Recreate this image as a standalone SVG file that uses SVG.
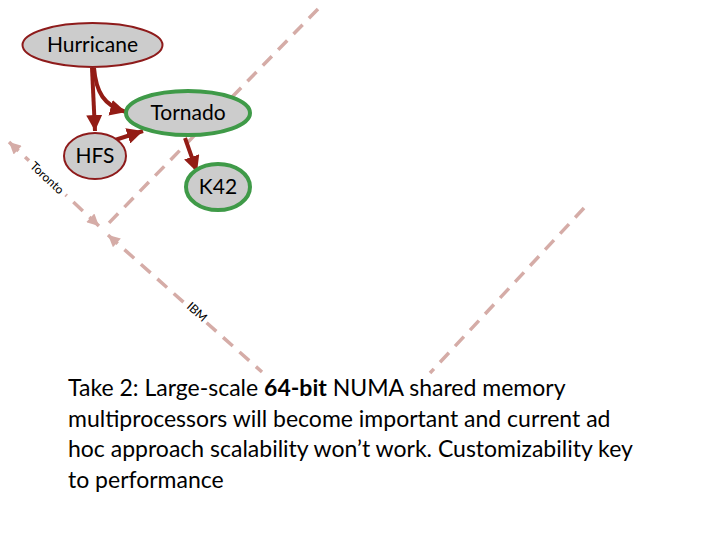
<svg xmlns="http://www.w3.org/2000/svg" width="720" height="540" viewBox="0 0 720 540">
<defs>
<style>
.n{fill:#cccccc}
.red{stroke:#8e1b1b;stroke-width:2}
.grn{stroke:#3f9a48;stroke-width:4}
.lbl{font-family:Lato,"Liberation Sans",sans-serif;font-size:21px;fill:#000;text-anchor:middle}
.edge{stroke:#931c15;stroke-width:4;fill:none}
.dash{stroke:#d5aca7;stroke-width:3.5;fill:none;stroke-dasharray:13 9}
.small{font-family:Lato,"Liberation Sans",sans-serif;font-size:12px;fill:#000;text-anchor:middle}
.body{font-family:Lato,"Liberation Sans",sans-serif;font-size:23px;fill:#000}
</style>
<marker id="ah" viewBox="0 0 10 10" refX="10" refY="5" markerWidth="4" markerHeight="4" orient="auto" markerUnits="strokeWidth">
<path d="M0,0 L10,5 L0,10 z" fill="#931c15"/>
</marker>
<marker id="dh" viewBox="0 0 10 10" refX="10" refY="5" markerWidth="4" markerHeight="3.4" orient="auto-start-reverse" markerUnits="strokeWidth">
<path d="M0,0 L10,5 L0,10 z" fill="#d5aca7"/>
</marker>
</defs>
<g id="connectors">
<line class="dash" x1="318" y1="9" x2="104" y2="228"/>
<line class="dash" x1="9" y1="142" x2="99" y2="226" marker-start="url(#dh)" marker-end="url(#dh)"/>
<line class="dash" x1="108" y1="235" x2="262" y2="372" marker-start="url(#dh)"/>
<line class="dash" x1="584" y1="208" x2="430" y2="373"/>
<g transform="translate(47,178) rotate(43)"><rect x="-25" y="-9" width="50" height="14" fill="#fff"/><text class="small" x="0" y="4">Toronto</text></g>
<g transform="translate(197,312) rotate(42)"><rect x="-13" y="-9" width="26" height="14" fill="#fff"/><text class="small" x="0" y="4">IBM</text></g>
<line class="edge" x1="92" y1="68" x2="95" y2="131" marker-end="url(#ah)"/>
<path class="edge" d="M94,68 C96,92 104,106 126,112" marker-end="url(#ah)"/>
<line class="edge" x1="115" y1="140" x2="143" y2="131" marker-end="url(#ah)"/>
<line class="edge" x1="185" y1="138" x2="197" y2="172" marker-end="url(#ah)"/>
</g>
<g id="hurricane"><ellipse class="n red" cx="92.5" cy="45" rx="70" ry="22"/><text class="lbl" x="92.5" y="52">Hurricane</text></g>
<g id="tornado"><ellipse class="n grn" cx="188" cy="113" rx="62" ry="22"/><text class="lbl" x="188" y="120">Tornado</text></g>
<g id="hfs"><ellipse class="n red" cx="95" cy="156" rx="31" ry="23"/><text class="lbl" x="95" y="163">HFS</text></g>
<g id="k42"><ellipse class="n grn" cx="218" cy="187" rx="32" ry="23"/><text class="lbl" x="218" y="194">K42</text></g>
<g id="caption">
<text class="body" x="68" y="396">Take 2: Large-scale <tspan font-weight="bold">64-bit</tspan> NUMA shared memory</text>
<text class="body" x="68" y="427">multiprocessors will become important and current ad</text>
<text class="body" x="68" y="457">hoc approach scalability won’t work. Customizability key</text>
<text class="body" x="68" y="488">to performance</text>
</g>
</svg>
